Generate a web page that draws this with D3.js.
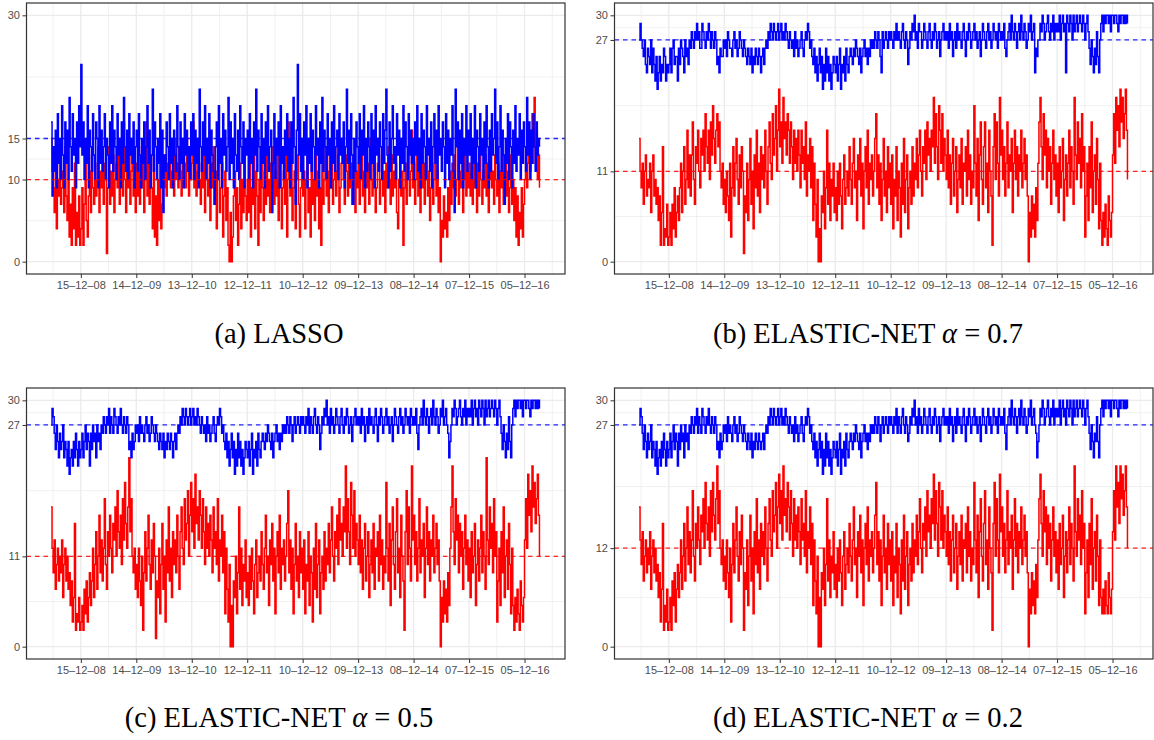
<!DOCTYPE html>
<html>
<head>
<meta charset="utf-8">
<script src="https://cdn.jsdelivr.net/npm/d3@7"></script>
<style>
  body { margin: 0; background: #fff; }
  .tick text { font-family: "Liberation Sans", Arial, sans-serif; font-size: 11px; fill: #4D4D4D; }
  .tick line { stroke: #333; }
  .caption { font-family: "Liberation Serif", "Times New Roman", serif; font-size: 28.5px; fill: #000; }
</style>
</head>
<body>
<script>
// weekly series, one value per Monday from 2 June 2008 to 20 March 2017 (459 weeks)
var firstWeek = "2008-06-02";
var lastWeek = "2017-03-20";

var tickDates = ["2008-12-15", "2009-12-14", "2010-12-13", "2011-12-12", "2012-12-10",
                 "2013-12-09", "2014-12-08", "2015-12-07", "2016-12-05"];
var tickLabels = ["15–12–08", "14–12–09", "13–12–10", "12–12–11", "10–12–12",
                  "09–12–13", "08–12–14", "07–12–15", "05–12–16"];

// each row = one year between the date ticks (first row: Jun–Dec 2008, last: Dec 2016–Mar 2017)
var lassoRed = [
  15,11,9,6,12,4,10,8,13,7,9,11,6,14,8,5,10,3,7,2,9,4,12,2,6,3,8,2,
  4,9,2,7,12,5,3,8,11,6,13,9,7,12,8,10,14,6,11,9,13,7,12,10,1,9,14,7,11,8,13,6,10,12,9,15,7,11,13,8,17,10,6,12,9,14,7,11,13,8,10,6,
  12,8,14,7,11,9,13,6,10,17,8,12,7,11,9,4,13,3,8,2,10,5,12,4,7,11,9,13,8,12,10,14,9,11,13,8,15,10,12,9,14,11,8,13,10,12,9,15,11,8,13,10,
  12,17,9,13,8,11,14,10,7,12,9,15,6,11,13,8,10,5,12,9,14,7,11,4,10,13,6,9,12,3,8,11,5,9,2,0,6,0,3,8,11,5,9,2,7,12,4,10,6,13,8,5,
  10,6,12,3,9,7,13,4,11,8,2,10,6,12,9,5,11,7,13,8,10,6,12,9,14,7,11,8,13,5,10,12,4,9,11,7,13,3,10,17,8,12,5,9,11,4,10,13,7,3,9,12,
  8,11,4,10,13,6,9,3,12,7,10,5,13,8,11,4,9,2,12,7,10,14,8,11,6,13,9,12,7,10,14,8,11,13,6,9,12,15,10,7,13,11,8,14,9,12,7,10,13,6,11,9,
  12,7,10,14,8,11,6,13,9,12,7,15,10,8,13,11,6,9,12,14,7,10,13,8,11,6,12,9,14,10,7,13,8,11,9,12,6,4,10,13,8,11,2,9,12,7,10,14,8,11,16,9,
  12,7,10,13,8,11,6,14,9,12,7,10,13,8,11,5,9,12,7,10,14,8,11,6,9,0,5,3,8,4,6,3,9,5,11,7,12,9,13,8,10,14,7,11,9,12,6,10,13,8,11,9,
  12,8,11,7,13,9,10,6,12,8,14,10,7,11,9,13,8,12,6,10,14,9,11,7,13,10,8,12,6,11,9,13,7,10,12,8,11,6,9,13,7,10,5,9,3,8,2,6,4,9,3,7,
  10,14,9,12,16,11,13,18,14,20,12,16,10,13,9
];
var lassoBlue = [
  17,8,14,11,16,9,18,12,15,10,19,13,9,17,12,16,10,20,14,11,18,13,15,9,17,12,19,14,
  24,13,17,10,15,12,19,9,16,14,11,18,13,10,17,15,9,19,12,16,11,14,18,10,15,13,9,17,12,19,11,16,14,10,18,13,15,9,17,12,20,14,11,16,10,18,13,15,12,17,9,14,
  16,11,18,13,9,15,12,17,10,14,19,12,16,9,13,21,11,17,14,10,15,12,18,9,16,6,13,11,17,14,10,18,12,15,9,16,13,11,19,14,10,17,12,15,9,18,13,16,11,14,10,17,
  13,18,10,16,12,15,9,21,14,11,17,13,19,10,15,12,18,9,16,13,11,7,14,17,10,19,12,15,9,18,13,16,11,14,20,10,17,12,15,9,18,13,11,16,10,19,14,12,17,9,15,13,
  16,10,18,12,15,9,17,13,21,11,16,14,10,18,12,15,9,17,13,19,11,14,16,6,12,18,10,15,13,17,9,19,12,14,10,16,13,18,11,15,9,17,12,20,14,7,16,24,13,18,11,15,
  10,17,13,19,9,15,12,18,11,16,14,10,19,13,15,9,17,12,20,11,16,14,10,18,13,15,9,17,12,19,11,14,16,10,18,13,15,12,17,9,14,21,12,16,10,18,13,7,15,11,17,14,
  12,18,10,16,13,19,9,15,11,17,14,10,18,12,16,9,19,13,15,11,17,14,10,18,12,16,21,13,9,17,11,15,19,12,14,10,18,13,16,9,15,12,19,11,17,14,10,18,13,16,12,15,
  10,17,13,19,11,15,9,18,12,16,14,10,19,13,15,11,17,9,14,18,12,16,10,19,13,15,11,17,14,9,18,12,16,10,15,13,19,11,6,21,14,17,10,16,12,18,9,15,13,19,11,16,
  13,18,10,15,12,19,9,16,14,11,18,13,15,10,17,12,19,14,9,16,11,18,13,15,21,12,17,10,14,19,11,16,13,7,15,12,18,10,17,14,9,16,12,19,11,15,13,18,10,16,12,17,
  14,11,20,13,17,10,16,12,18,14,11,17,13,15,14
];

var enet07Red = [
  15,11,9,12,7,11,13,8,10,9,12,6,11,13,8,10,7,9,5,8,2,6,14,2,4,3,7,2,
  3,6,2,7,4,9,3,6,8,5,9,12,6,11,14,7,10,16,9,13,8,13,17,10,7,14,12,16,11,9,15,13,16,11,18,14,12,16,10,17,13,19,15,12,16,18,14,17,11,9,12,7,
  10,6,11,8,5,12,3,9,14,8,12,15,10,7,13,9,14,11,1,8,6,12,5,10,15,7,11,4,13,9,16,8,12,6,14,10,13,9,16,11,7,14,17,12,10,18,13,15,19,11,16,21,
  14,17,12,20,15,17,13,18,16,12,17,14,10,16,12,15,11,16,13,9,16,12,14,10,17,8,13,11,15,9,14,5,12,7,3,10,0,4,0,8,6,11,4,9,16,7,12,5,10,8,12,6,
  9,5,11,7,12,8,4,10,13,7,9,11,8,14,10,7,12,15,9,11,5,13,10,15,8,12,4,11,14,9,16,7,12,10,13,8,11,15,18,9,13,7,12,5,10,15,8,11,6,14,9,12,
  7,13,4,10,8,14,5,11,9,3,12,7,15,6,10,13,4,9,11,7,14,8,12,10,15,9,13,16,11,8,14,12,16,10,17,13,15,11,16,14,20,12,18,14,10,19,16,12,18,11,15,13,
  10,16,9,13,7,12,15,8,11,14,6,10,13,9,15,7,12,11,14,8,16,10,13,7,11,9,19,12,8,15,5,13,17,10,7,14,17,9,12,6,16,11,8,2,14,18,10,17,12,8,20,13,
  16,10,14,8,12,17,9,13,11,15,6,12,16,10,14,8,13,11,16,9,12,15,10,13,8,0,6,3,8,4,7,3,9,5,12,17,20,14,10,18,13,16,9,15,11,14,7,12,16,10,13,8,
  12,6,14,9,11,15,5,10,13,8,12,16,9,14,11,7,20,13,10,17,12,15,9,18,11,14,3,8,12,5,14,9,17,6,11,13,7,15,10,4,12,5,2,6,3,7,4,2,8,5,3,6,
  13,18,12,20,16,19,14,21,17,20,15,18,21,16,10
];
var enet07Blue = [
  27,29,27,26,25,27,24,23,26,25,24,27,23,26,24,22,25,21,23,25,22,24,23,26,25,22,24,23,
  24,26,23,26,27,24,25,25,22,26,24,27,26,25,23,27,25,26,24,27,26,28,27,26,28,27,29,27,28,26,26,29,28,27,26,28,27,29,28,26,28,27,26,28,27,24,25,23,26,25,25,27,
  26,27,25,28,27,26,26,25,27,28,26,27,25,26,28,27,26,25,27,26,25,24,26,25,24,26,23,25,24,26,25,24,26,25,23,25,26,24,26,27,26,28,27,29,28,27,29,28,27,28,29,27,
  28,29,27,28,27,29,28,27,26,28,27,26,27,25,28,26,27,25,26,27,28,26,25,27,28,27,29,28,26,27,25,24,26,23,25,22,24,26,23,25,21,24,22,26,23,25,22,24,21,23,25,24,
  23,25,22,24,26,21,24,23,25,22,26,24,23,25,26,25,24,26,25,27,26,25,24,26,23,25,26,27,25,26,24,26,25,27,26,27,26,28,27,26,28,27,25,23,28,26,27,28,27,26,28,27,
  28,27,26,28,27,29,27,28,27,26,28,29,27,26,28,27,24,26,28,27,29,28,30,27,28,26,29,28,28,26,27,29,28,27,26,28,29,27,26,28,27,29,28,26,27,28,25,27,28,29,27,28,
  27,28,26,29,27,28,25,27,28,26,29,27,28,27,26,28,29,27,25,28,27,29,28,26,27,28,29,27,28,26,27,28,25,27,29,28,27,26,28,29,27,28,26,27,29,28,27,28,26,29,28,27,
  28,27,29,26,25,27,28,29,27,30,28,27,29,28,26,28,29,27,30,28,27,29,28,26,27,29,28,30,27,28,29,23,26,25,27,27,29,28,30,29,27,28,29,30,28,27,29,28,30,27,29,28,
  29,28,30,27,29,30,28,29,23,30,29,28,30,29,27,30,28,29,30,28,29,30,29,28,30,29,27,29,30,28,26,24,27,25,23,26,24,28,25,23,27,29,30,28,30,29,30,30,29,30,28,30,
  30,29,30,30,29,28,30,29,30,30,29,30,29,30,29
];

var enet05Red = [
  17,12,9,13,7,10,12,8,11,9,13,6,10,12,8,11,7,9,5,8,3,6,15,2,4,3,6,2,
  3,5,2,7,4,8,3,6,9,5,8,12,6,10,14,7,11,16,9,13,8,12,18,10,7,14,11,16,12,9,15,13,17,11,19,14,12,16,10,18,13,20,15,12,17,23,14,18,11,9,12,7,
  10,6,12,8,5,11,2,9,14,8,12,16,10,7,13,9,15,11,1,8,6,12,4,10,15,7,11,3,13,9,17,8,12,6,14,10,13,9,16,11,7,14,17,12,10,18,13,15,19,11,16,20,
  14,18,12,21,15,17,13,19,16,12,18,14,10,17,12,15,11,16,13,9,17,12,14,10,18,8,13,11,16,9,14,4,12,7,3,10,0,5,0,8,6,11,4,9,17,7,12,5,10,8,13,6,
  9,5,11,7,12,8,4,10,13,6,9,11,8,14,10,7,12,16,9,11,5,13,10,15,8,12,4,11,14,9,16,7,12,10,13,8,11,15,19,9,13,7,12,4,10,15,8,11,6,14,9,12,
  7,13,4,10,8,14,5,11,9,3,12,7,15,6,10,13,4,9,11,7,14,8,12,10,15,9,13,17,11,8,14,12,16,10,18,13,15,11,17,14,22,12,18,14,10,20,16,12,19,11,15,13,
  10,16,9,13,7,12,15,8,11,14,6,10,13,9,15,7,12,11,14,8,16,10,13,7,11,9,20,12,8,15,5,13,17,10,7,14,18,9,12,6,16,11,8,2,14,19,10,17,12,8,22,13,
  16,10,14,8,12,18,9,13,11,15,6,12,17,10,14,8,13,11,16,9,12,15,10,13,8,0,6,3,8,4,7,3,9,5,12,17,22,14,10,18,13,16,9,15,11,14,7,12,16,10,13,8,
  12,6,14,9,11,15,5,10,13,8,12,16,9,14,11,7,23,13,10,17,12,15,9,18,11,14,3,8,12,5,14,9,17,6,11,13,7,15,10,4,12,5,2,6,3,7,4,2,8,5,3,6,
  13,18,12,21,16,19,14,22,17,20,15,18,21,16,11
];
var enet05Blue = [
  27,29,28,26,24,27,25,23,26,24,25,27,23,25,24,22,25,21,23,24,22,25,23,26,24,22,25,23,
  24,26,23,25,27,24,26,25,22,26,24,27,25,26,23,27,25,26,24,27,26,28,27,26,28,27,29,26,28,27,26,29,28,27,26,28,27,29,27,26,28,27,26,28,27,24,25,23,26,24,25,27,
  26,27,25,28,26,27,26,25,27,28,26,27,25,26,28,27,26,25,27,26,25,24,26,25,24,26,23,25,24,26,25,24,26,25,23,25,26,24,26,27,26,28,27,29,28,27,29,28,27,28,29,27,
  28,29,27,28,27,29,28,27,26,28,27,26,27,25,28,26,27,25,26,27,28,26,25,27,28,27,29,28,26,27,25,24,26,23,25,22,24,26,23,25,21,24,22,26,23,25,22,24,21,23,25,24,
  23,25,22,24,26,21,24,23,25,22,26,24,23,25,26,25,24,26,25,27,26,25,24,26,23,25,26,27,25,26,24,26,25,27,26,27,26,28,27,26,28,27,25,27,28,26,27,28,27,26,28,27,
  28,27,26,28,27,29,26,28,27,26,28,29,27,26,28,27,24,26,28,27,29,28,30,27,28,26,29,27,28,26,27,29,28,27,26,28,29,27,26,28,27,29,28,26,27,28,25,27,28,29,27,28,
  27,28,26,29,27,28,25,27,28,26,29,27,28,27,26,28,29,27,25,28,27,29,28,26,27,28,29,27,28,26,27,28,25,27,29,28,27,26,28,29,27,28,26,27,29,28,27,28,26,29,28,27,
  28,27,29,26,24,27,28,29,27,30,28,27,29,28,26,28,29,27,30,28,27,29,28,26,27,29,28,30,27,28,29,27,26,23,25,27,29,28,30,29,27,28,29,30,28,27,29,28,30,27,29,28,
  29,28,30,27,29,30,28,29,27,30,29,28,30,29,27,30,28,29,30,28,29,30,29,28,30,29,27,29,30,28,26,24,27,25,23,26,24,28,25,23,27,29,30,28,30,29,30,30,29,30,28,30,
  30,29,30,30,29,28,30,29,30,30,29,30,29,30,29
];

var enet02Red = [
  17,13,10,14,8,11,13,9,12,10,14,7,11,13,9,12,8,10,6,9,3,7,15,2,5,3,7,2,
  3,6,2,8,5,9,3,7,10,6,9,13,7,11,15,8,12,17,10,14,9,13,19,11,8,15,12,17,13,10,16,14,18,12,20,15,13,17,11,19,14,20,16,13,18,22,15,19,12,10,13,8,
  11,7,13,9,6,12,3,10,15,9,13,17,11,8,14,10,16,12,2,9,7,13,5,11,16,8,12,4,14,10,18,9,13,7,15,11,14,10,17,12,8,15,18,13,11,19,14,16,20,12,17,21,
  15,19,13,22,16,18,14,20,17,13,19,15,11,18,13,16,12,17,14,10,18,13,15,11,19,9,14,12,17,10,15,5,13,8,4,11,0,6,0,9,7,12,5,10,18,8,13,6,11,9,14,7,
  10,6,12,8,13,9,5,11,14,7,10,12,9,15,11,8,13,17,10,12,6,14,11,16,9,13,5,12,15,10,17,8,13,11,14,9,12,16,20,10,14,8,13,5,11,16,9,12,7,15,10,13,
  8,14,5,11,9,15,6,12,10,4,13,8,16,7,11,14,5,10,12,8,15,9,13,11,16,10,14,18,12,9,15,13,17,11,19,14,16,12,18,15,21,13,19,15,11,20,17,13,19,12,16,14,
  11,17,10,14,8,13,16,9,12,15,7,11,14,10,16,8,13,12,15,9,17,11,14,8,12,10,20,13,9,16,6,14,18,11,8,15,19,10,13,7,17,12,9,2,15,20,11,18,13,9,21,14,
  17,11,15,9,13,19,10,14,12,16,7,13,18,11,15,9,14,12,17,10,13,16,11,14,9,0,7,4,9,5,8,4,10,6,13,18,21,15,11,19,14,17,10,16,12,15,8,13,17,11,14,9,
  13,7,15,10,12,16,6,11,14,9,13,17,10,15,12,8,22,14,11,18,13,16,10,19,12,15,4,9,13,6,15,10,18,7,12,14,8,16,11,5,13,6,4,7,4,8,5,4,9,6,4,7,
  14,19,13,22,17,20,15,22,18,21,16,19,22,17,12
];
var enet02Blue = [
  27,29,28,26,24,27,25,23,26,24,25,27,23,25,24,22,25,21,23,24,22,25,23,26,24,22,25,23,
  24,26,23,25,27,24,26,25,22,26,24,27,25,26,23,27,25,26,24,27,26,28,27,26,28,27,29,26,28,27,26,29,28,27,26,28,27,29,27,26,28,27,26,28,27,24,25,23,26,24,25,27,
  26,27,25,28,26,27,26,25,27,28,26,27,25,26,28,27,26,25,27,26,25,24,26,25,24,26,23,25,24,26,25,24,26,25,24,25,26,24,26,27,26,28,27,29,28,27,29,28,27,28,29,27,
  28,29,27,28,27,29,28,27,26,28,27,26,27,25,28,26,27,25,26,27,28,26,25,27,28,27,29,28,26,27,25,24,26,23,25,22,24,26,23,25,21,24,22,26,23,25,22,24,21,23,25,24,
  23,25,22,24,26,21,24,23,25,22,26,24,23,25,26,25,24,26,25,27,26,25,24,26,23,25,26,27,25,26,24,26,25,27,26,27,26,28,27,26,28,27,25,27,28,26,27,28,27,26,28,27,
  28,27,26,28,27,29,26,28,27,26,28,29,27,26,28,27,25,26,28,27,29,28,30,27,28,26,29,27,28,26,27,29,28,27,26,28,29,27,26,28,27,29,28,26,27,28,25,27,28,29,27,28,
  27,28,26,29,27,28,25,27,28,26,29,27,28,27,26,28,29,27,25,28,27,29,28,26,27,28,29,27,28,26,27,28,25,27,29,28,27,26,28,29,27,28,26,27,29,28,27,28,26,29,28,27,
  28,27,29,26,24,27,28,29,27,30,28,27,29,28,26,28,29,27,30,28,27,29,28,26,27,29,28,30,27,28,29,27,26,23,25,27,29,28,30,29,27,28,29,30,28,27,29,28,30,27,29,28,
  29,28,30,27,29,30,28,29,27,30,29,28,30,29,27,30,28,29,30,28,29,30,29,28,30,29,27,29,30,28,26,24,27,25,23,26,25,28,25,23,27,29,30,28,30,29,30,30,29,30,28,30,
  30,29,30,30,29,28,30,29,30,30,29,30,29,30,29
];

// reference levels drawn as dashed lines (also the y-axis breaks)
var redRefs = [10, 11, 11, 12];
var blueRefs = [15, 27, 27, 27];
var captions = ["(a) LASSO", "(b) ELASTIC-NET ", "(c) ELASTIC-NET ", "(d) ELASTIC-NET "];
var alphas = [null, "0.7", "0.5", "0.2"];

var panels = [
  {red: lassoRed, blue: lassoBlue},
  {red: enet07Red, blue: enet07Blue},
  {red: enet05Red, blue: enet05Blue},
  {red: enet02Red, blue: enet02Blue}
];

var width = 1154, height = 740;
var pw = 538.5, ph = 271;
var lefts = [26.5, 614.5], tops = [3, 388];
var capX = [279, 868], capY = [343, 727];

var svg = d3.select("body").append("svg")
    .attr("width", width)
    .attr("height", height);

var parse = d3.utcParse("%Y-%m-%d");
var t0 = parse(firstWeek), t1 = parse(lastWeek);
var span = t1 - t0;
var ticks = tickDates.map(parse);

// minor x grid: half way between the breaks, plus half a step beyond each end
var minorX = [];
var step = ticks[1] - ticks[0];
minorX.push(new Date(+ticks[0] - step / 2));
for (var k = 0; k < ticks.length - 1; k++) minorX.push(new Date((+ticks[k] + +ticks[k + 1]) / 2));
minorX.push(new Date(+ticks[ticks.length - 1] + step / 2));

panels.forEach(function(p, idx) {
    var col = idx % 2, row = Math.floor(idx / 2);

    var x = d3.scaleUtc()
        .domain([new Date(+t0 - span * 0.05), new Date(+t1 + span * 0.05)])
        .range([0, pw]);
    var y = d3.scaleLinear()
        .domain([-1.5, 31.5])
        .range([ph, 0]);

    var breaks = [0, redRefs[idx], blueRefs[idx], 30];
    var minorY = [];
    for (var b = 0; b < breaks.length - 1; b++) minorY.push((breaks[b] + breaks[b + 1]) / 2);

    var g = svg.append("g")
        .attr("transform", "translate(" + lefts[col] + "," + tops[row] + ")");

    // grid
    g.selectAll(".minx").data(minorX.filter(function(d) { return x(d) > 0 && x(d) < pw; }))
      .enter().append("line")
        .attr("x1", function(d) { return x(d); }).attr("x2", function(d) { return x(d); })
        .attr("y1", 0).attr("y2", ph)
        .attr("stroke", "#EBEBEB").attr("stroke-width", 0.7);
    g.selectAll(".miny").data(minorY)
      .enter().append("line")
        .attr("x1", 0).attr("x2", pw)
        .attr("y1", function(d) { return y(d); }).attr("y2", function(d) { return y(d); })
        .attr("stroke", "#EBEBEB").attr("stroke-width", 0.7);
    g.selectAll(".majx").data(ticks)
      .enter().append("line")
        .attr("x1", function(d) { return x(d); }).attr("x2", function(d) { return x(d); })
        .attr("y1", 0).attr("y2", ph)
        .attr("stroke", "#EBEBEB").attr("stroke-width", 1.3);
    g.selectAll(".majy").data(breaks)
      .enter().append("line")
        .attr("x1", 0).attr("x2", pw)
        .attr("y1", function(d) { return y(d); }).attr("y2", function(d) { return y(d); })
        .attr("stroke", "#EBEBEB").attr("stroke-width", 1.3);

    var line = d3.line()
        .x(function(d, i) { return x(d3.utcWeek.offset(t0, i)); })
        .y(function(d) { return y(d); })
        .curve(d3.curveStepAfter);

    g.append("path").datum(p.red)
        .attr("d", line)
        .attr("fill", "none").attr("stroke", "#FF0000").attr("stroke-width", 1.5);
    g.append("path").datum(p.blue)
        .attr("d", line)
        .attr("fill", "none").attr("stroke", "#0000FF").attr("stroke-width", 1.5);

    // dashed reference lines
    [[redRefs[idx], "#FF0000"], [blueRefs[idx], "#0000FF"]].forEach(function(r) {
        g.append("line")
            .attr("x1", 0).attr("x2", pw)
            .attr("y1", y(r[0])).attr("y2", y(r[0]))
            .attr("stroke", r[1]).attr("stroke-width", 1.3)
            .attr("stroke-opacity", 0.85)
            .attr("stroke-dasharray", "4.5,4");
    });

    // panel border
    g.append("rect")
        .attr("width", pw).attr("height", ph)
        .attr("fill", "none").attr("stroke", "#333").attr("stroke-width", 1.2);

    var xAxis = d3.axisBottom(x)
        .tickValues(ticks)
        .tickFormat(function(d, i) { return tickLabels[i]; })
        .tickSize(4).tickPadding(3);
    g.append("g")
        .attr("transform", "translate(0," + ph + ")")
        .call(xAxis)
        .call(function(s) { s.select(".domain").remove(); });

    var yAxis = d3.axisLeft(y)
        .tickValues(breaks)
        .tickFormat(d3.format("d"))
        .tickSize(4).tickPadding(2.5);
    g.append("g")
        .call(yAxis)
        .call(function(s) { s.select(".domain").remove(); });

    // caption under the panel
    var cap = svg.append("text")
        .attr("class", "caption")
        .attr("x", capX[col]).attr("y", capY[row])
        .attr("text-anchor", "middle");
    cap.append("tspan").text(captions[idx]);
    if (alphas[idx]) {
        cap.append("tspan").attr("font-style", "italic").text("α");
        cap.append("tspan").text(" = " + alphas[idx]);
    }
});
</script>
</body>
</html>
